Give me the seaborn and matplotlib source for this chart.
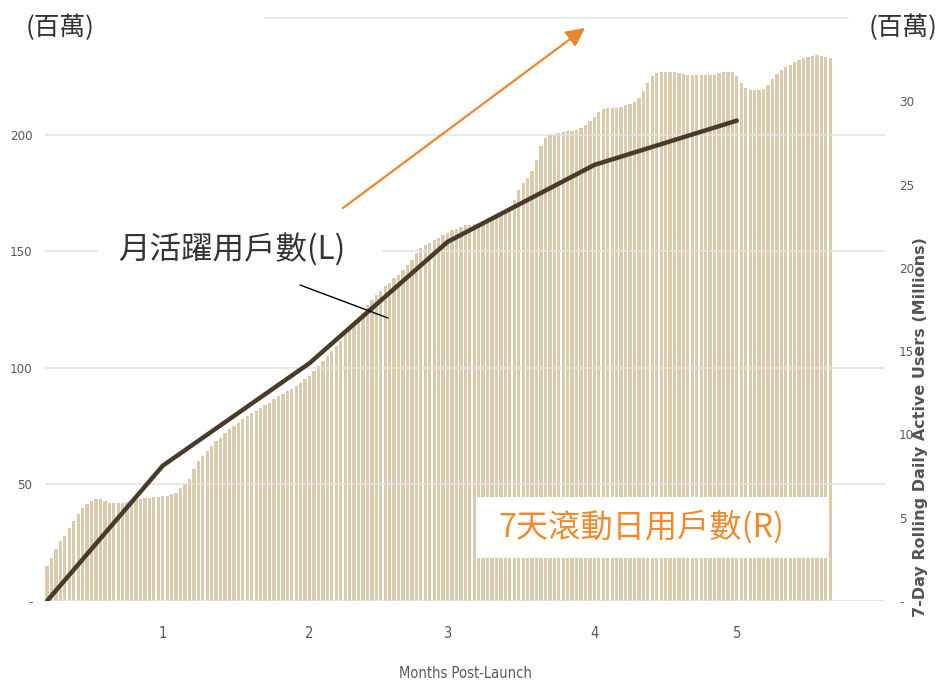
import numpy as np
import pandas as pd
import matplotlib
matplotlib.use("Agg")
import matplotlib.pyplot as plt
import seaborn as sns
from matplotlib.patches import Rectangle
from matplotlib.lines import Line2D

# 7-day rolling DAU (millions), one bar per day
dau = [2.1, 2.6, 3.1, 3.6, 3.9, 4.4, 4.8, 5.2, 5.6, 5.85,
       6.0, 6.1, 6.1, 6.0, 5.9, 5.9, 5.9, 5.9, 5.95, 6.0,
       6.05, 6.15, 6.2, 6.2, 6.25, 6.25, 6.3, 6.3, 6.4, 6.5,
       6.8, 7.0, 7.3, 7.9, 8.4, 8.7, 9.0, 9.3, 9.6, 9.8,
       10.1, 10.3, 10.5, 10.7, 10.9, 11.1, 11.3, 11.4, 11.6, 11.75,
       11.9, 12.1, 12.3, 12.4, 12.6, 12.7, 12.9, 13.1, 13.3, 13.5,
       13.8, 14.1, 14.4, 14.7, 15.0, 15.3, 15.6, 16.0, 16.3, 16.6,
       17.0, 17.3, 17.8, 18.1, 18.4, 18.6, 18.9, 19.1, 19.4, 19.6,
       19.9, 20.2, 20.5, 20.9, 21.2, 21.35, 21.5, 21.65, 21.8, 21.95,
       22.1, 22.25, 22.35, 22.45, 22.55, 22.6, 22.65, 22.7, 22.8, 22.9,
       23.0, 23.1, 23.25, 23.4, 23.6, 24.1, 24.7, 25.1, 25.4, 25.8,
       26.5, 27.3, 27.8, 28.0, 28.0, 28.1, 28.15, 28.2, 28.2, 28.3,
       28.4, 28.55, 28.8, 29.05, 29.35, 29.55, 29.6, 29.6, 29.6, 29.65,
       29.75, 29.85, 29.95, 30.2, 30.6, 31.1, 31.5, 31.7, 31.75, 31.75,
       31.75, 31.75, 31.7, 31.65, 31.6, 31.6, 31.6, 31.6, 31.55, 31.55,
       31.6, 31.7, 31.75, 31.75, 31.75, 31.5, 31.1, 30.8, 30.7, 30.7,
       30.7, 30.75, 31.0, 31.35, 31.65, 31.85, 32.05, 32.2, 32.35, 32.5,
       32.6, 32.65, 32.7, 32.75, 32.7, 32.65, 32.6]
days = list(range(len(dau)))

# Monthly active users (millions) at month marks
mau_days = [0, 26, 59, 90, 123, 155]
mau = [0, 58, 102, 154, 187, 206]

month_ticks = [26, 59, 90, 123, 155]
month_labels = ['1', '2', '3', '4', '5']
left_ticks = [0, 50, 100, 150, 200]
left_labels = ['-', '50', '100', '150', '200']
right_ticks = [0, 5, 10, 15, 20, 25, 30]
right_labels = ['-', '5', '10', '15', '20', '25', '30']

sns.set_theme(style='white')
plt.rcParams['font.family'] = ['Noto Sans CJK TC', 'DejaVu Sans']
narrow = ['Liberation Sans Narrow', 'DejaVu Sans']

W, H = 940, 683
fig = plt.figure(figsize=(W / 100, H / 100), dpi=100)
ax = fig.add_axes([45 / W, 1 - 601 / H, 840 / W, 583 / H])
ax2 = ax.twinx()

df_bar = pd.DataFrame({'day': days, 'dau': dau})
sns.barplot(data=df_bar, x='day', y='dau', ax=ax2, color='#d9cbae',
            saturation=1, width=0.74, linewidth=0, native_scale=True, errorbar=None)

df_line = pd.DataFrame({'day': mau_days, 'mau': mau})
sns.lineplot(data=df_line, x='day', y='mau', ax=ax, color='#4a3a2c', linewidth=3.2)

ax.set_zorder(ax2.get_zorder() + 1)
ax.patch.set_visible(False)

ax.set_ylim(0, 250)
ax2.set_ylim(0, 35)
ax.set_xlim(-0.45, 188.3)

ax.grid(axis='y', color='#e2e2e2', linewidth=1.1)
ax.grid(axis='x', visible=False)
ax2.grid(False)
for a in (ax, ax2):
    for s in a.spines.values():
        s.set_visible(False)
    a.set_xlabel('')
    a.set_ylabel('')

ax.set_yticks(left_ticks, left_labels)
ax.set_xticks(month_ticks, month_labels)
ax2.set_yticks(right_ticks, right_labels)
ax.tick_params(axis='y', length=0, pad=9, labelsize=9.5, labelcolor='#595959')
ax.tick_params(axis='x', length=0, pad=18, labelsize=10.5, labelcolor='#595959')
ax2.tick_params(axis='y', length=0, pad=10, labelsize=9.5, labelcolor='#595959')
for lbl in ax.get_yticklabels() + ax.get_xticklabels() + ax2.get_yticklabels():
    lbl.set_family(narrow)
    lbl.set_stretch('condensed')

# decorations
fig.add_artist(Line2D([265 / W, 848 / W], [1 - 18 / H, 1 - 18 / H],
                      color='#e2e2e2', lw=1.1))
fig.add_artist(Rectangle((98 / W, 1 - 274 / H), 284 / W, 48 / H,
                         transform=fig.transFigure, facecolor='white',
                         edgecolor='none', zorder=2))
fig.add_artist(Rectangle((477 / W, 1 - 558 / H), 351 / W, 61 / H,
                         transform=fig.transFigure, facecolor='white',
                         edgecolor='none', zorder=2))
fig.text(118 / W, 1 - 250 / H, '月活躍用戶數(L)', ha='left', va='center',
         fontsize=22.7, color='#333333', zorder=3)
fig.text(498 / W, 1 - 527 / H, '7天滾動日用戶數(R)', ha='left', va='center',
         fontsize=23.2, color='#f08a2a', zorder=3)
fig.add_artist(Line2D([300 / W, 388 / W], [1 - 285 / H, 1 - 318 / H],
                      color='black', lw=1.0, zorder=4))
fig.add_artist(plt.Annotation('', xy=(585 / W, 1 - 28 / H), xytext=(343 / W, 1 - 208 / H),
                              xycoords='figure fraction', textcoords='figure fraction',
                              arrowprops=dict(arrowstyle='-|>,head_length=0.8,head_width=0.4',
                                              color='#e8872e', lw=1.6, mutation_scale=14,
                                              shrinkA=0, shrinkB=0)))

fig.text(60 / W, 1 - 28 / H, '(百萬)', ha='center', va='center', fontsize=18.5, color='#333333')
fig.text(903 / W, 1 - 28 / H, '(百萬)', ha='center', va='center', fontsize=18.5, color='#333333')
fig.text(921 / W, 1 - 427 / H, '7-Day Rolling Daily Active Users (Millions)', rotation=90,
         ha='center', va='center', fontsize=11.5, fontweight='bold', color='#555555',
         family='DejaVu Sans')
fig.text(465 / W, 1 - 673 / H, 'Months Post-Launch', ha='center', va='center',
         fontsize=10.5, color='#595959', family=narrow, stretch='condensed')

fig.savefig('out.png', dpi=100)
